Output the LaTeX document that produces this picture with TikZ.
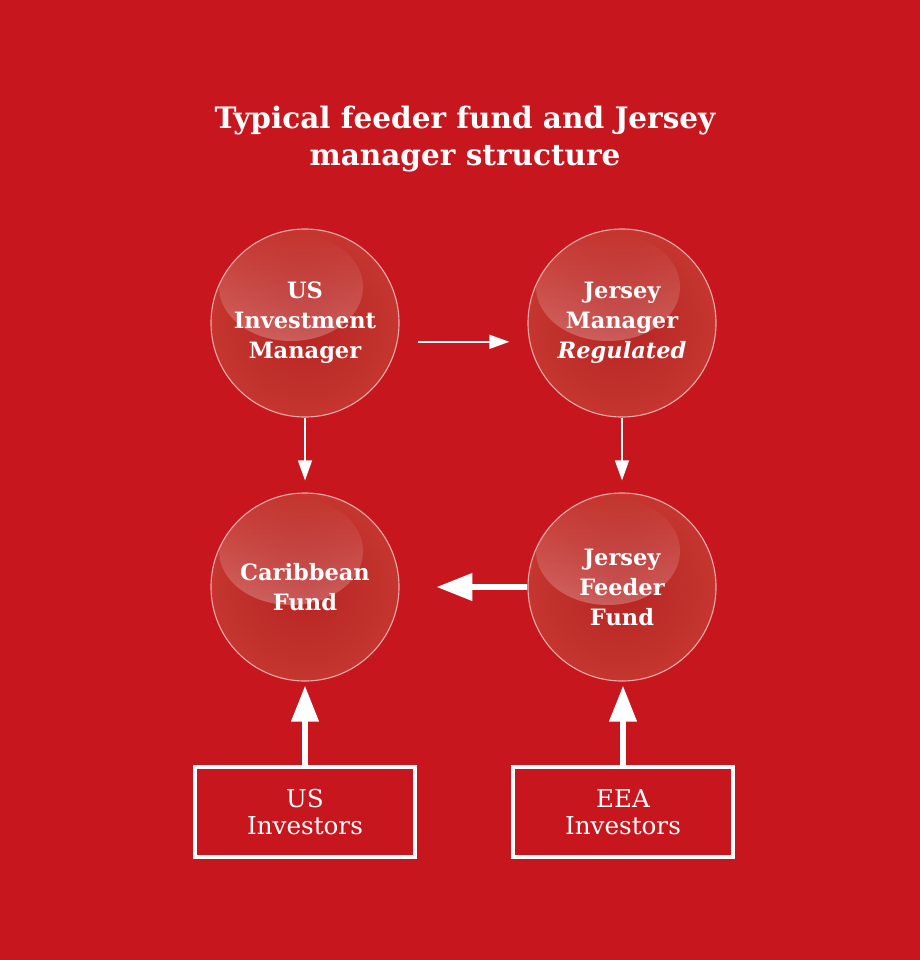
\documentclass[tikz,border=0pt]{standalone}
\usepackage{fontspec}
\setmainfont{DejaVu Serif}
\usetikzlibrary{arrows.meta}
\usetikzlibrary{fadings}
\definecolor{bgred}{RGB}{200,22,30}
\definecolor{ballred}{RGB}{182,36,34}
\definecolor{balllight}{RGB}{204,62,54}
\tikzset{
  bubble/.style={circle,minimum size=4.7cm,inner sep=0pt,align=center,text=white,
    font=\bfseries\fontsize{16}{21.3}\selectfont,
    draw=white,draw opacity=0.6,line width=0.8pt,
    path picture={
      \shade[inner color=ballred,outer color=balllight] (path picture bounding box.center) circle (3.4cm);
      \fill[white,path fading=north,fill opacity=0.25] ([xshift=-0.35cm,yshift=0.9cm]path picture bounding box.center) ellipse (1.8cm and 1.35cm);
    }},
  investbox/.style={rectangle,draw=white,line width=2.2pt,minimum width=5.5cm,minimum height=2.25cm,
    align=center,text=white,font=\fontsize{17.5}{19.5}\selectfont},
  thinarrow/.style={white,line width=1pt,-{Triangle[length=0.5cm,width=0.35cm]}},
  thickarrow/.style={white,line width=4.3pt,-{Triangle[length=0.9cm,width=0.66cm]}}
}
\begin{document}
\begin{tikzpicture}[x=0.025cm,y=-0.025cm]
\fill[bgred] (0,0) rectangle (920,960);
\useasboundingbox (0,0) rectangle (920,960);
% title
\node[text=white,align=center,font=\bfseries\fontsize{21}{26.5}\selectfont] (ttl) at (465,139)
  {Typical feeder fund and Jersey\\manager structure};
% spheres
\node[bubble] (usm) at (305,323) {US\\Investment\\Manager};
\node[bubble] (jm) at (622,323) {Jersey\\Manager\\\textit{Regulated}};
\node[bubble] (cf) at (305,587) {Caribbean\\Fund};
\node[bubble] (jf) at (622,587) {Jersey\\Feeder\\Fund};
% investors
\node[investbox] (usi) at (305,812) {US\\Investors};
\node[investbox] (eea) at (623,812) {EEA\\Investors};
% arrows
\draw[thinarrow,shorten <=0.45cm,shorten >=0.45cm] ([yshift=-0.47cm]usm.east) -- ([yshift=-0.47cm]jm.west);
\draw[thinarrow,shorten >=0.3cm] (usm.south) -- (cf.north);
\draw[thinarrow,shorten >=0.3cm] (jm.south) -- (jf.north);
\draw[thickarrow,shorten >=0.92cm] (jf.west) -- (cf.east);
\draw[thickarrow,shorten >=0.1cm] (usi.north) -- (cf.south);
\draw[thickarrow,shorten >=0.1cm] (eea.north) -- (jf.south -| eea.north);
\end{tikzpicture}
\end{document}
